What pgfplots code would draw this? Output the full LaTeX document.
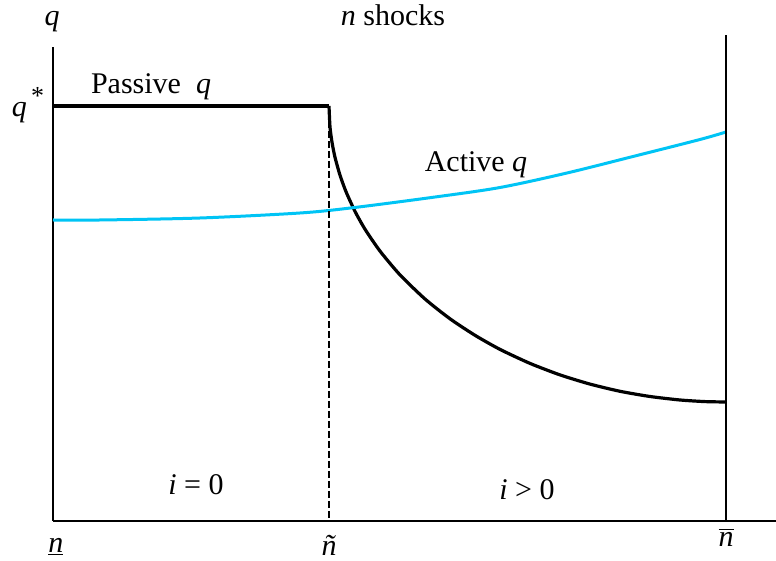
\documentclass[border=0pt]{standalone}
\usepackage{fontspec}
\setmainfont{Liberation Serif}
\usepackage{pgfplots}
\pgfplotsset{compat=1.18}
\definecolor{activeblue}{RGB}{0,196,245}

\begin{document}
\begin{tikzpicture}
  \begin{axis}[
      x=0.5pt, y=0.5pt,
      xmin=53, xmax=776,
      ymin=0, ymax=474,
      axis lines=left,
      axis line style={-, line width=0.8pt},
      ticks=none,
      clip=false,
      font=\fontsize{15}{18}\selectfont,
    ]
    % passive q: flat up to n tilde, then the fall to n bar
    \addplot[black, line width=1.6pt] coordinates {
      (53,415) (329,415)
    };
    \addplot[black, line width=1.6pt, smooth, tension=0.4] coordinates {
      (329,415) (330,394) (332,378.7) (335,363.7) (340,345.8) (346,329.3)
      (355,309.6) (365,291.8) (380,269.9) (400,246.1) (425,222.0)
      (450,202.2) (475,185.7) (500,171.6) (530,157.6) (560,146.1)
      (590,136.9) (620,129.7) (650,124.5) (680,121.0) (705,119.4) (726,119)
    };
    % active q
    \addplot[activeblue, line width=1.5pt, smooth, tension=0.5] coordinates {
      (53,301) (100,301) (200,303) (300,308) (353,313.3) (433,323.7)
      (500,333.5) (567,348) (633,364.5) (700,381.5) (726,389)
    };
    % dashed line at n tilde, right border at n bar
    \addplot[black, line width=1.3pt, dash pattern=on 3.5pt off 1.5pt] coordinates {
      (329,410) (329,0)
    };
    \addplot[black, line width=0.8pt] coordinates {(726,0) (726,486)};

    \node at (axis cs:52,499) {\textit{q}};
    \node at (axis cs:393,506) {\textit{n} shocks};
    \node at (axis cs:28,416) {\textit{q}\raisebox{0.9ex}{\fontsize{13}{13}\selectfont\,*}};
    \node at (axis cs:151,434) {Passive\ \ \textit{q}};
    \node at (axis cs:476,356) {Active \textit{q}};
    \node at (axis cs:196,36) {\textit{i} = 0};
    \node at (axis cs:527,31) {\textit{i} > 0};
    \node at (axis cs:56,-26) {\underline{\textit{n}}};
    \node at (axis cs:329,-24) {\textit{\~n}};
    \node at (axis cs:726,-16) {$\overline{\mbox{\textit{n}}}$};

    \coordinate (BL) at (axis cs:0,-40);
    \coordinate (TR) at (axis cs:776,521);
  \end{axis}
  \pgfresetboundingbox
  \path[use as bounding box] (BL) rectangle (TR);
\end{tikzpicture}
\end{document}
